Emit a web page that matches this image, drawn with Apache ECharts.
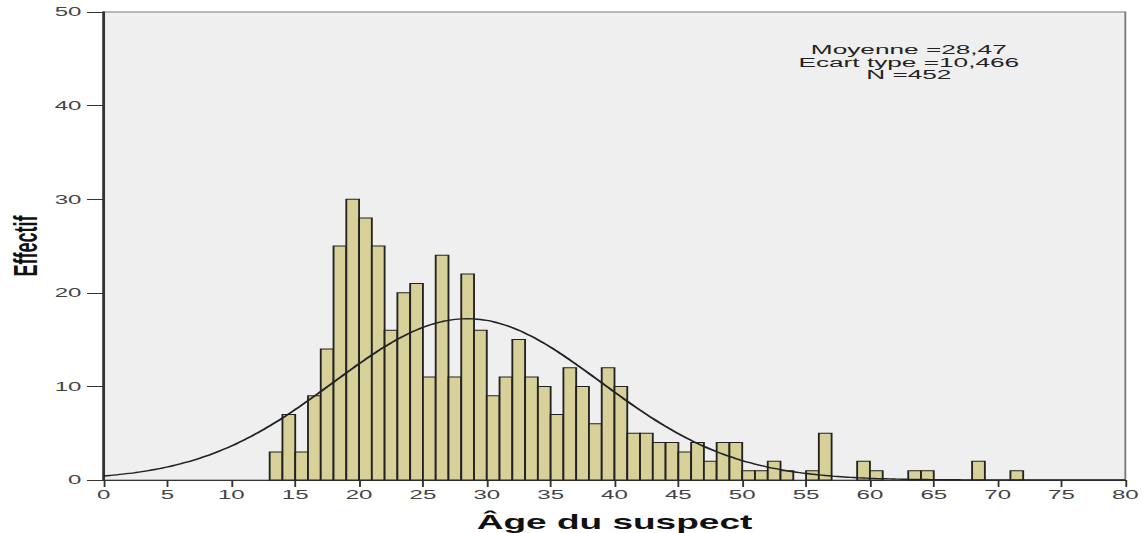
<!DOCTYPE html>
<html>
<head>
<meta charset="utf-8">
<title>Âge du suspect</title>
<script src="https://cdn.jsdelivr.net/npm/echarts@6/dist/echarts.min.js"></script>
<style>
  html, body { margin: 0; padding: 0; background: #fff; overflow: hidden; }
  /* la figure d'origine est étirée horizontalement : on dessine plus étroit puis on étire */
  #chart {
    width: 617px;
    height: 533px;
    transform: scaleX(1.8509);
    transform-origin: 0 0;
  }
</style>
</head>
<body>
<div id="chart"></div>
<script>
const ages = [13, 14, 15, 16, 17, 18, 19, 20, 21, 22, 23, 24, 25, 26, 27, 28, 29, 30,
  31, 32, 33, 34, 35, 36, 37, 38, 39, 40, 41, 42, 43, 44, 45, 46, 47, 48, 49, 50,
  51, 52, 53, 54, 55, 56, 57, 58, 59, 60, 61, 62, 63, 64, 65, 66, 67, 68, 69, 70, 71]
const counts = [3, 7, 3, 9, 14, 25, 30, 28, 25, 16, 20, 21, 11, 24, 11, 22, 16, 9,
  11, 15, 11, 10, 7, 12, 10, 6, 12, 10, 5, 5, 4, 4, 3, 4, 2, 4, 4, 1,
  1, 2, 1, 0, 1, 5, 0, 0, 2, 1, 0, 0, 1, 1, 0, 0, 0, 2, 0, 0, 1]
const binWidth = 1

// statistiques affichées (courbe normale ajustée)
const mean = 28.47
const sd = 10.466
const total = 452

const xTicks = [0, 5, 10, 15, 20, 25, 30, 35, 40, 45, 50, 55, 60, 65, 70, 75, 80]
const yTicks = [0, 10, 20, 30, 40, 50]

const histData = ages
  .map((a, i) => [a, counts[i]])
  .filter(d => d[1] > 0)

// courbe normale : N * largeur de classe * densité
const curveData = []
for (let x = xTicks[0]; x <= xTicks[xTicks.length - 1]; x += 0.5) {
  const z = (x - mean) / sd
  curveData.push([x, total * binWidth * Math.exp(-0.5 * z * z) / (sd * Math.sqrt(2 * Math.PI))])
}

const chart = echarts.init(document.getElementById('chart'), null, { renderer: 'svg' })

const option = {
  animation: false,
  backgroundColor: '#fff',
  textStyle: { fontFamily: 'Liberation Sans, Arial, sans-serif' },
  grid: {
    left: 56,
    right: 9,
    top: 12,
    bottom: 53,
    containLabel: false,
    outerBoundsMode: 'none',
    show: true,
    backgroundColor: '#efefef',
    borderColor: '#7a7a7a',
    borderWidth: 1
  },
  xAxis: {
    type: 'value',
    min: xTicks[0],
    max: xTicks[xTicks.length - 1],
    interval: 5,
    name: 'Âge du suspect',
    nameLocation: 'middle',
    nameGap: 32,
    nameMoveOverlap: false,
    nameTextStyle: { fontSize: 20, fontWeight: 'bold', color: '#111' },
    axisLine: { show: true, lineStyle: { color: '#333', width: 1.2 } },
    axisTick: { show: true, length: 7, lineStyle: { color: '#333' } },
    axisLabel: { fontSize: 13, color: '#444', margin: 8 },
    splitLine: { show: false }
  },
  yAxis: {
    type: 'value',
    min: yTicks[0],
    max: yTicks[yTicks.length - 1],
    interval: 10,
    name: 'Effectif',
    nameLocation: 'middle',
    nameGap: 33,
    nameMoveOverlap: false,
    nameRotate: 90,
    nameTextStyle: { fontSize: 18, fontWeight: 'bold', color: '#111' },
    axisLine: { show: true, lineStyle: { color: '#333', width: 1.5 } },
    axisTick: { show: true, length: 9, lineStyle: { color: '#333' } },
    axisLabel: { fontSize: 13, color: '#444', margin: 12 },
    splitLine: { show: false }
  },
  series: [
    {
      type: 'custom',
      name: 'Effectif',
      data: histData,
      encode: { x: 0, y: 1 },
      renderItem: function (params, api) {
        const x0 = api.value(0)
        const n = api.value(1)
        const p0 = api.coord([x0, n])
        const p1 = api.coord([x0 + binWidth, 0])
        return {
          type: 'rect',
          shape: { x: p0[0], y: p0[1], width: p1[0] - p0[0], height: p1[1] - p0[1] },
          style: { fill: '#d7d199', stroke: '#222', lineWidth: 1 }
        }
      },
      z: 2
    },
    {
      type: 'line',
      name: 'Normale',
      data: curveData,
      showSymbol: false,
      smooth: true,
      lineStyle: { color: '#222', width: 1.4 },
      z: 3
    }
  ],
  graphic: [
    {
      type: 'text',
      x: 491,
      y: 44,
      scaleX: 1.18,
      z: 10,
      style: {
        text: 'Moyenne =28,47\nEcart type =10,466\nN =452',
        align: 'center',
        verticalAlign: 'top',
        fontSize: 12,
        lineHeight: 12.5,
        fontFamily: 'Liberation Sans, Arial, sans-serif',
        fill: '#222'
      }
    }
  ]
}

chart.setOption(option)
</script>
</body>
</html>
